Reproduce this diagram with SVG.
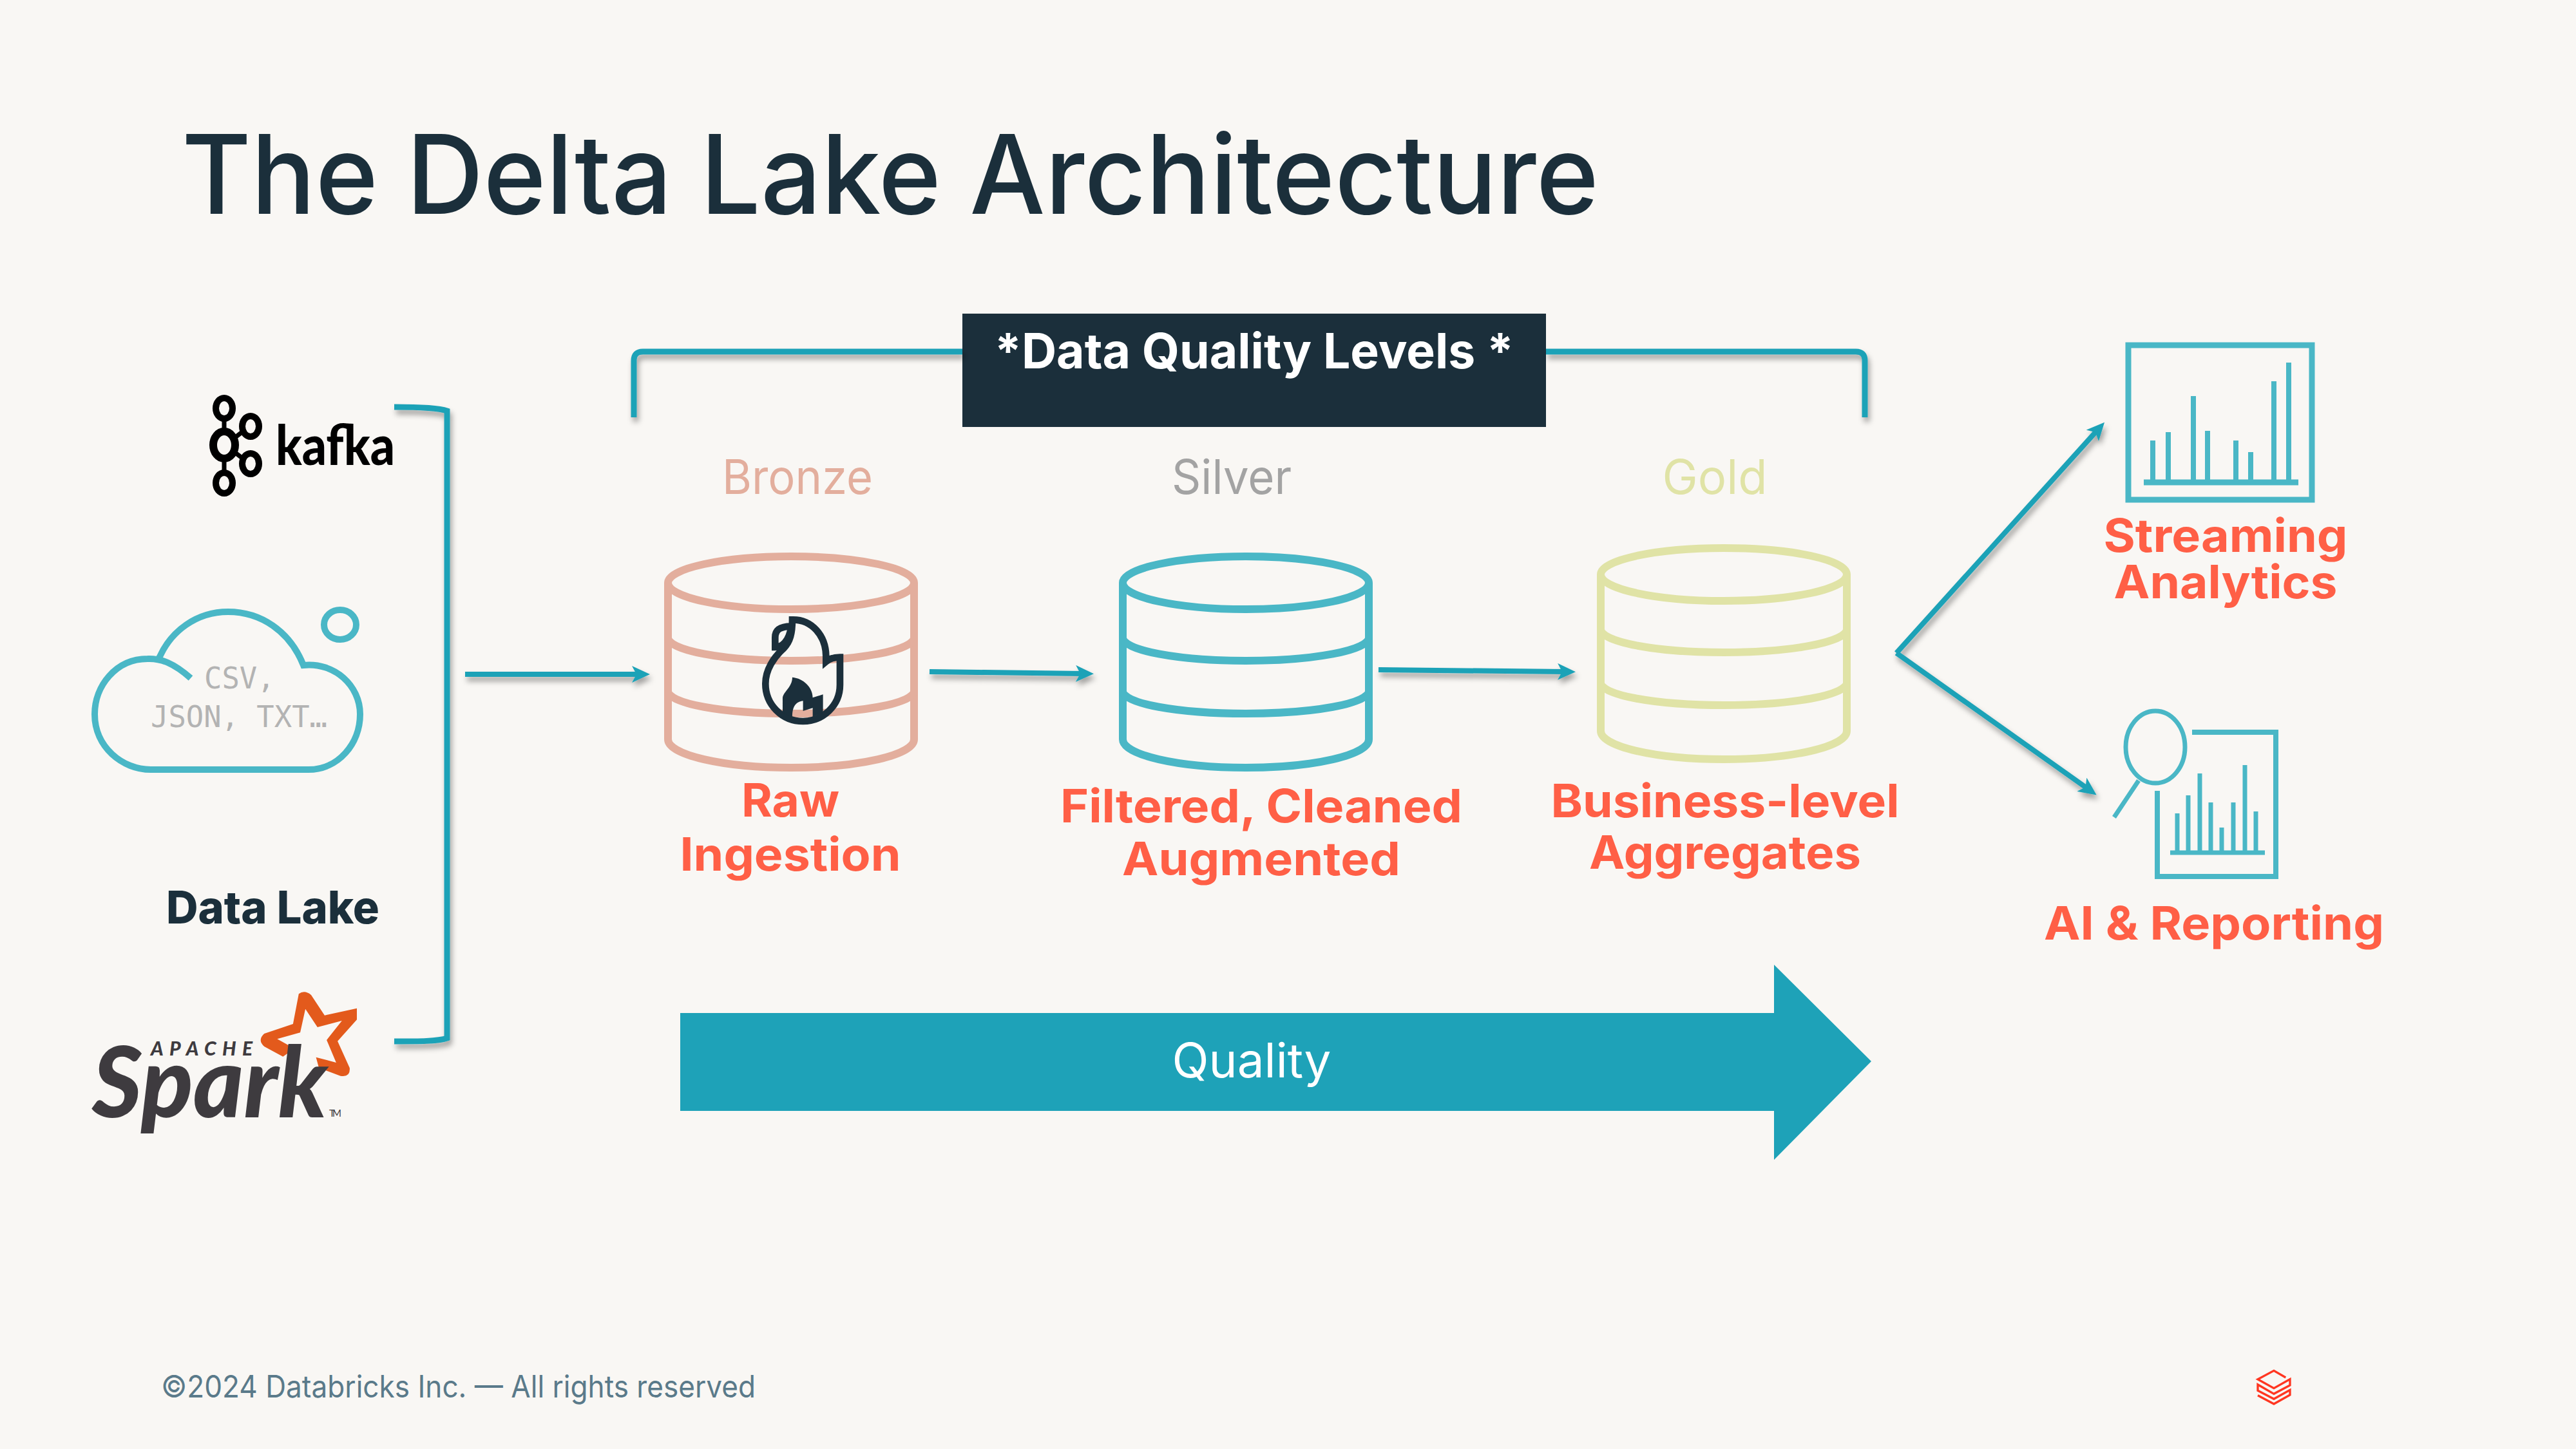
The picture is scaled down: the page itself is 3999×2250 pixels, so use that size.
<svg xmlns="http://www.w3.org/2000/svg" xmlns:xlink="http://www.w3.org/1999/xlink" width="3999" height="2250" viewBox="0 0 3999 2250">
<style>
text{font-family:"Inter","Liberation Sans",sans-serif}
.lbl{font-size:71px;font-weight:700;fill:#FF5F46;text-anchor:middle}
.lvl{font-size:74px;font-weight:400;text-anchor:middle}
.conn{fill:none;stroke:#1FA2B7;stroke-width:9}
.thin{stroke-width:8}
.ico{fill:none;stroke:#4AB7C6;stroke-width:9}
.s10{stroke-width:10}
.s8{stroke-width:8}
.s7{stroke-width:7}
.cyl{fill:none;stroke-width:12}
.mono{font-family:"DejaVu Sans Mono","Liberation Mono",monospace;font-size:45.5px;fill:#B3B3B3}
.lg{font-family:"Lato","Liberation Sans",sans-serif}
.blk{fill:none;stroke:#000;stroke-width:10}
</style>
<defs>
<filter id="sh" x="-20%" y="-20%" width="140%" height="140%"><feDropShadow dx="3" dy="7" stdDeviation="4" flood-color="#000" flood-opacity=".35"/></filter>
<marker id="ah" markerUnits="userSpaceOnUse" markerWidth="28" markerHeight="26" refX="10" refY="13" orient="auto" viewBox="0 0 28 26"><path d="M0 0L28 13L0 26L7 13Z" fill="#1FA2B7"/></marker>
<g id="cy">
<ellipse cx="191" cy="0" rx="191" ry="41"/>
<path d="M0 0V243A191 44 0 0 0 382 243V0"/>
<path d="M0 85A191 36 0 0 0 382 85"/>
<path d="M0 168A191 35 0 0 0 382 168"/>
</g>
</defs>
<rect width="3999" height="2250" fill="#F9F7F4"/>
<text x="282" y="332" font-size="170" font-weight="500" fill="#1B2F3B" textLength="2200" lengthAdjust="spacingAndGlyphs">The Delta Lake Architecture</text>

<g id="kafka">
<ellipse cx="348" cy="634" rx="13" ry="16" class="blk"/>
<ellipse cx="348" cy="691" rx="17" ry="21" class="blk" style="stroke-width:12"/>
<ellipse cx="389" cy="662" rx="13" ry="16" class="blk"/>
<ellipse cx="389" cy="720" rx="13" ry="16" class="blk"/>
<ellipse cx="348" cy="750" rx="13" ry="16" class="blk"/>
<path d="M348 650V670M348 712V734M364 680L377 670M364 702L377 712" class="blk" style="stroke-width:7"/>
<text x="428" y="722" class="lg" font-size="86" font-weight="900" fill="#000" textLength="185" lengthAdjust="spacingAndGlyphs">kafka</text>
</g>

<g id="cloud">
<path class="ico s10" d="M296 1053C270 1030 250 1022 229 1023C180 1023 147 1065 147 1109C147 1160 190 1195 234 1195H479C525 1195 559 1155 559 1109C559 1065 520 1028 471 1033C450 980 405 950 354 950C305 950 265 980 247 1022"/>
<ellipse cx="528" cy="970" rx="25" ry="23" class="ico s10"/>
<text x="317" y="1069" class="mono">CSV,</text>
<text x="234" y="1129" class="mono">JSON, TXT…</text>
</g>

<g id="data-lake"><text x="258" y="1434" font-size="70" font-weight="800" fill="#1B2F3B" textLength="331" lengthAdjust="spacingAndGlyphs">Data Lake</text></g>

<g id="spark">
<g transform="translate(100 1300) scale(.4464 .3333)">
<path fill="#E35A1C" fill-rule="evenodd" d="M815 730Q835 710 858 735L905 830L1017 797V850L950 950L992 1075Q995 1120 960 1112L885 1075L875 1025L945 1050L912 945L965 855L880 885L838 800L820 910L740 940L800 985L760 1022L695 975Q670 945 695 915L795 870Z"/>
</g>
<text x="234" y="1639" class="lg" font-size="30" font-weight="900" font-style="italic" fill="#3E3B3F" textLength="158">APACHE</text>
<text x="143" y="1735" class="lg" font-size="152" font-weight="900" font-style="italic" fill="#3E3B3F" textLength="365" lengthAdjust="spacingAndGlyphs">Spark</text>
<text x="511" y="1734" class="lg" font-size="15" fill="#3E3B3F" textLength="19">TM</text>
</g>

<g id="bronze">
<use href="#cy" x="1037" y="905" class="cyl" stroke="#E3AE9D"/>
<g transform="translate(980 820) scale(.3333)">
<path fill="none" stroke="#1B2F3B" stroke-width="32" d="M750 427C840 425 907 500 907 600V622C925 607 950 602 972 602V730C972 830 890 900 800 900C700 900 625 820 625 725C625 660 665 600 710 560C740 530 750 490 750 427Z"/>
<path fill="none" stroke="#1B2F3B" stroke-width="32" d="M745 458C700 458 670 470 670 510V555C700 555 735 530 745 458Z"/>
<path fill="#1B2F3B" d="M750 695C800 700 845 740 845 790L893 775V860L845 880V838L800 852V805C770 810 750 825 750 880L705 860V790C710 760 750 740 750 695Z"/>
</g>
<text x="1238" y="767" class="lvl" fill="#E3AE9D" textLength="234" lengthAdjust="spacingAndGlyphs">Bronze</text>
<text x="1227" y="1268" class="lbl" textLength="152" lengthAdjust="spacingAndGlyphs">Raw</text>
<text x="1227" y="1352" class="lbl" textLength="343" lengthAdjust="spacingAndGlyphs">Ingestion</text>
</g>

<g id="silver">
<use href="#cy" x="1743" y="905" class="cyl" stroke="#4AB7C6"/>
<text x="1912" y="767" class="lvl" fill="#A3A3A3" textLength="186" lengthAdjust="spacingAndGlyphs">Silver</text>
<text x="1958" y="1277" class="lbl" textLength="624" lengthAdjust="spacingAndGlyphs">Filtered, Cleaned</text>
<text x="1958" y="1359" class="lbl" textLength="432" lengthAdjust="spacingAndGlyphs">Augmented</text>
</g>

<g id="gold">
<use href="#cy" x="2485" y="892" class="cyl" stroke="#E0E3A6"/>
<text x="2662" y="767" class="lvl" fill="#E0E3A6" textLength="163" lengthAdjust="spacingAndGlyphs">Gold</text>
<text x="2678" y="1269" class="lbl" textLength="541" lengthAdjust="spacingAndGlyphs">Business-level</text>
<text x="2678" y="1349" class="lbl" textLength="422" lengthAdjust="spacingAndGlyphs">Aggregates</text>
</g>

<g id="quality-levels">
<rect x="1494" y="487" width="906" height="176" fill="#1B2F3B"/>
<text x="1947" y="572" font-size="76" font-weight="700" fill="#fff" text-anchor="middle" textLength="806" lengthAdjust="spacingAndGlyphs">*Data Quality Levels *</text>
</g>

<g id="streaming">
<rect x="3304" y="536" width="285" height="240" class="ico"/>
<path class="ico" d="M3328 749H3568"/>
<path class="ico s8" d="M3342 749V684M3366 749V671M3405 749V615M3427 749V669M3471 749V684M3494 749V702M3530 749V592M3553 749V563"/>
<text x="3455" y="857" class="lbl" textLength="379" lengthAdjust="spacingAndGlyphs">Streaming</text>
<text x="3455" y="929" class="lbl" textLength="347" lengthAdjust="spacingAndGlyphs">Analytics</text>
</g>

<g id="reporting">
<path class="ico s8" d="M3403 1137H3533V1361H3349V1228"/>
<path class="ico s7" d="M3369 1324H3516M3380 1324V1263M3397 1324V1235M3415 1324V1201M3432 1324V1246M3449 1324V1285M3467 1324V1246M3485 1324V1188M3502 1324V1260"/>
<ellipse cx="3346" cy="1160" rx="46" ry="56" class="ico s7"/>
<path class="ico s7" d="M3320 1212L3282 1269"/>
<text x="3437" y="1459" class="lbl" textLength="528" lengthAdjust="spacingAndGlyphs">AI &amp; Reporting</text>
</g>

<g id="quality-arrow">
<path fill="#1EA2B8" d="M1056 1573H2754V1498L2905 1648L2754 1801V1725H1056Z"/>
<text x="1943" y="1673" font-size="74" fill="#fff" text-anchor="middle" textLength="247" lengthAdjust="spacingAndGlyphs">Quality</text>
</g>

<g id="connectors" filter="url(#sh)">
<path class="conn" d="M612 632C650 632 680 633 694 638V1612C680 1617 650 1617 612 1617"/>
<path class="conn" d="M984 648V560Q984 546 998 546H1494"/>
<path class="conn" d="M2400 546H2881Q2895 546 2895 560V648"/>
<path class="conn thin" marker-end="url(#ah)" d="M722 1047H991"/>
<path class="conn thin" marker-end="url(#ah)" d="M1443 1043L1680 1046"/>
<path class="conn thin" marker-end="url(#ah)" d="M2140 1040L2428 1043"/>
<path class="conn thin" marker-end="url(#ah)" d="M2944 1014L3255 669"/>
<path class="conn thin" marker-end="url(#ah)" d="M2944 1014L3240 1224"/>
</g>

<g id="footer">
<text x="250" y="2170" font-size="48" fill="#5A7A8A" textLength="923" lengthAdjust="spacingAndGlyphs">©2024 Databricks Inc. — All rights reserved</text>
<path transform="translate(3450 2090) scale(.3333)" fill="none" stroke="#FF3621" stroke-width="10" d="M295 147L240 115L165 155L240 197L315 155V183L240 223L165 180V208L240 247L315 205V228L240 270L165 230"/>
</g>
</svg>
